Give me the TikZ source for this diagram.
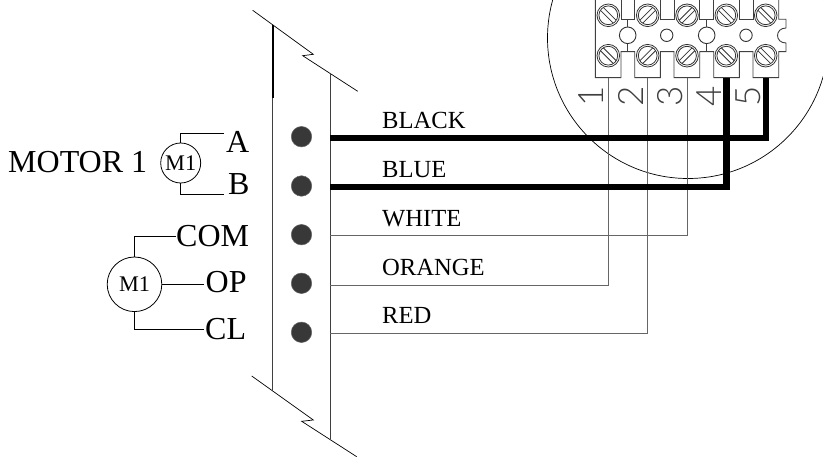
\documentclass[tikz,border=0pt]{standalone}
\usepackage{fontspec}
\setmainfont{Liberation Serif}
\newfontfamily\digitfont{Lato Light}
\tikzset{
  x=1pt,y=-1pt,
  thinline/.style={line width=0.9pt,draw=black!75},
  fineline/.style={line width=0.7pt,draw=black},
  thickwire/.style={line width=6.2pt,draw=black,line join=miter},
  wire/.style={line width=1pt,draw=black!60},
  pin/.style={circle,fill=black!78,draw=black!60,line width=0.5pt,minimum size=20.5pt,inner sep=0pt},
  colorlabel/.style={anchor=base west,inner sep=0pt,font=\fontsize{24.6}{24.6}\selectfont},
  biglabel/.style={anchor=base west,inner sep=0pt,font=\fontsize{32}{32}\selectfont},
  motor/.style={circle,draw=black,line width=0.8pt,inner sep=0pt,font=\fontsize{22.3}{22.3}\selectfont},
  hole/.style={circle,draw=black!80,line width=0.9pt,inner sep=0pt},
  digit/.style={rotate=90,inner sep=0pt,text=black!75,font=\digitfont\fontsize{35}{35}\selectfont},
}
\newcommand{\screwhead}[3]{%
  \begin{scope}[shift={(#1,#2)}]
    \fill[white] (0,0) circle (11.3);
    \draw[line width=0.8pt,black!80] (0,0) circle (11.3);
    \draw[line width=0.8pt,black!80] (0,0) circle (9.4);
    \begin{scope}[rotate=#3]
      \draw[line width=0.8pt,black!80] (-8.9,-2) -- (8.9,-2);
      \draw[line width=0.8pt,black!80] (-8.9,2) -- (8.9,2);
    \end{scope}
  \end{scope}}
\begin{document}
\begin{tikzpicture}
\useasboundingbox (0,0) rectangle (823,457);
\clip (0,0) rectangle (823,457);
% enlarged circle
\draw[fineline] (688,38) circle (140.5);
% terminal block
\draw[thinline] (595.3,0) -- (595.3,77.7) -- (621,77.7) -- (621,51.7) -- (634.7,51.7) -- (634.7,77.7) -- (660.3,77.7) -- (660.3,51.7) -- (674,51.7) -- (674,77.7) -- (699.7,77.7) -- (699.7,51.7) -- (713.7,51.7) -- (713.7,77.7) -- (739.3,77.7) -- (739.3,51.7) -- (753,51.7) -- (753,77.7) -- (778.7,77.7) -- (778.7,51.7) -- (786,51.7) -- (786,43) .. controls (774.7,43) and (774.7,28) .. (786,28) -- (786,19.3) -- (778.7,19.3) -- (778.7,0);
\draw[thinline] (621,0) -- (621,19.3) -- (634.7,19.3) -- (634.7,0);
\draw[thinline] (660.3,0) -- (660.3,19.3) -- (674,19.3) -- (674,0);
\draw[thinline] (699.7,0) -- (699.7,19.3) -- (713.7,19.3) -- (713.7,0);
\draw[thinline] (739.3,0) -- (739.3,19.3) -- (753,19.3) -- (753,0);
\node[hole,minimum size=16.6pt] (h1) at (627.7,35.3) {};
\node[hole,minimum size=12.4pt] (h2) at (666.7,35.3) {};
\node[hole,minimum size=16.6pt] (h3) at (706.7,35.3) {};
\node[hole,minimum size=12.4pt] (h4) at (746,35.3) {};
\coordinate (s1t) at (627.7,19.3);
\coordinate (s1b) at (627.7,51.7);
\coordinate (s3t) at (706.7,19.3);
\coordinate (s3b) at (706.7,51.7);
\draw[thinline] (s1t) -- (h1) (h1) -- (s1b) (s3t) -- (h3) (h3) -- (s3b);
\screwhead{608.3}{15.3}{-45}
\screwhead{647.7}{15.3}{45}
\screwhead{687}{15.3}{45}
\screwhead{726.3}{15.3}{-45}
\screwhead{765.7}{15.3}{-45}
\screwhead{608.3}{55.7}{-45}
\screwhead{647.7}{55.7}{45}
\screwhead{687}{55.7}{45}
\screwhead{726.3}{55.7}{-45}
\screwhead{765.7}{55.7}{-45}
% digits
\node[digit] (d1) at (591.5,96) {1};
\node[digit] (d2) at (630.5,96) {2};
\node[digit] (d3) at (670,96) {3};
\node[digit] (d4) at (709,96) {4};
\node[digit] (d5) at (748.5,96) {5};
% panel
\draw[fineline] (252.7,10.3) -- (313.3,54.3) -- (302.7,55.7) -- (357.7,91.3);
\draw[fineline] (251.7,376) -- (313.3,420) -- (301.7,421.3) -- (356.7,456.7);
\draw[line width=2pt,black] (272.7,25) -- (272.7,98);
\draw[thinline] (272.7,98) -- (272.7,390.7);
\draw[thinline] (330.3,73) -- (330.3,439.3);
% pins
\node[pin] (p1) at (301.5,136.7) {};
\node[pin] (p2) at (301.5,186) {};
\node[pin] (p3) at (301.5,234.7) {};
\node[pin] (p4) at (301.5,283.3) {};
\node[pin] (p5) at (301.5,332.3) {};
% wires
\draw[wire] (330.3,235.7) -- (687,235.7) -- (687,77.7);
\draw[wire] (330.3,285.7) -- (608.3,285.7) -- (608.3,77.7);
\draw[wire] (330.3,333.3) -- (647.7,333.3) -- (647.7,77.7);
\draw[thickwire] (330.3,138.3) -- (766,138.3) -- (766,77.7);
\draw[thickwire] (330.3,186.7) -- (726.5,186.7) -- (726.5,77.7);
% wire labels
\node[colorlabel] (lblack) at (382,129) {BLACK};
\node[colorlabel] (lblue) at (382,178) {BLUE};
\node[colorlabel] (lwhite) at (382,227) {WHITE};
\node[colorlabel] (lorange) at (382,276) {ORANGE};
\node[colorlabel] (lred) at (382,324) {RED};
% motors
\node[biglabel] (m1) at (8,172.7) {MOTOR 1};
\node[motor,minimum size=40pt] (mA) at (180.7,163) {M1};
\node[biglabel] (a) at (226,152.7) {A};
\node[biglabel] (b) at (227.8,194.3) {B};
\coordinate (ta) at (224,133.3);
\coordinate (tb) at (224,194);
\draw[fineline] (mA.north) -- (180.7,133.3) -- (ta);
\draw[fineline] (mA.south) -- (180.7,194) -- (tb);
\node[motor,minimum size=54.6pt] (mB) at (134.5,284.3) {M1};
\coordinate (top) at (204,284.3);
\node[biglabel] (com) at (176,246.7) {COM};
\node[biglabel] (op) at (205.5,292.7) {OP};
\node[biglabel] (cl) at (205,340) {CL};
\draw[fineline] (mB.north) -- (134.5,236.3) -- (175.7,236.3);
\draw[fineline] (mB.east) -- (top);
\draw[fineline] (mB.south) -- (134.5,329.7) -- (204,329.7);
\end{tikzpicture}
\end{document}
